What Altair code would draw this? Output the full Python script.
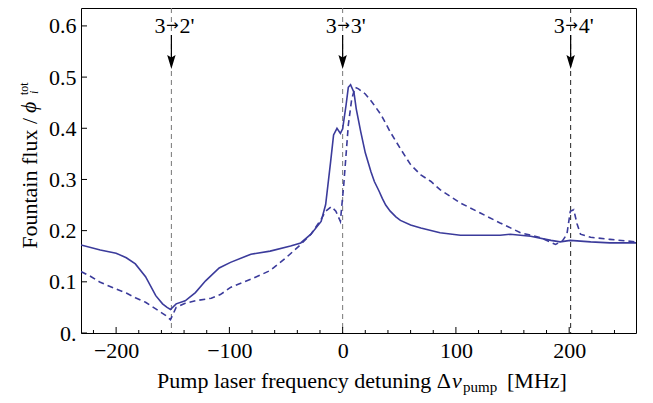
import altair as alt
import pandas as pd

# ---- data ----
solid_x = [-231, -214, -200, -191, -183, -174, -165, -159, -155, -152, -147, -139, -130, -121,
           -109, -99, -81, -64, -46, -37, -28, -19, -15, -10.6, -8, -5, -2, 0, 3, 5, 7, 10, 12,
           16, 20, 25, 28, 32, 35, 38, 42, 47, 51, 60, 69, 86, 104, 139, 148, 166, 184, 192,
           201, 219, 236, 259]
solid_y = [0.172, 0.162, 0.156, 0.147, 0.135, 0.110, 0.073, 0.057, 0.050, 0.046, 0.057, 0.063,
           0.079, 0.102, 0.127, 0.138, 0.154, 0.160, 0.170, 0.176, 0.193, 0.218, 0.251, 0.335,
           0.387, 0.400, 0.390, 0.399, 0.445, 0.480, 0.485, 0.470, 0.438, 0.393, 0.352, 0.315,
           0.296, 0.278, 0.263, 0.250, 0.238, 0.227, 0.220, 0.211, 0.205, 0.196, 0.191, 0.191,
           0.193, 0.189, 0.181, 0.178, 0.181, 0.178, 0.176, 0.176]

dash_x = [-231, -222, -214, -200, -191, -183, -174, -165, -156, -152, -147, -139, -130, -116,
          -108, -99, -81, -64, -50, -37, -28, -19, -15, -10, -6, -2, 1, 3, 5, 8, 11, 14, 20, 26,
          34, 42, 51, 60, 69, 78, 86, 104, 122, 139, 157, 175, 188, 194, 198, 201, 204, 207,
          210, 219, 236, 259]
dash_y = [0.120, 0.110, 0.099, 0.086, 0.078, 0.069, 0.060, 0.047, 0.034, 0.026, 0.050, 0.058,
          0.063, 0.068, 0.075, 0.089, 0.105, 0.122, 0.147, 0.173, 0.193, 0.222, 0.238, 0.247,
          0.238, 0.218, 0.290, 0.348, 0.406, 0.457, 0.480, 0.477, 0.467, 0.451, 0.426, 0.393,
          0.360, 0.329, 0.309, 0.296, 0.280, 0.254, 0.234, 0.215, 0.196, 0.186, 0.173, 0.180,
          0.193, 0.238, 0.241, 0.213, 0.193, 0.187, 0.183, 0.178]

trans_x = [-151.2, 0.0, 201.3]
trans_from = ["3", "3", "3"]
trans_arrow = ["\u2192", "\u2192", "\u2192"]
trans_to = ["2'", "3'", "4'"]

x_major = [-200, -100, 0, 100, 200]
x_minor = [-220, -180, -160, -140, -120, -80, -60, -40, -20, 20, 40, 60, 80,
           120, 140, 160, 180, 220, 240]
y_major = [0.0, 0.1, 0.2, 0.3, 0.4, 0.5, 0.6]

x_title_main = "Pump laser frequency detuning \u0394"
x_title_nu = "\u03bd"
x_title_sub = "pump"
x_title_unit = "[MHz]"
y_title_main = "Fountain flux /"
y_title_phi = "\u03d5"
y_title_sub = "i"
y_title_sup = "tot"

# ---- styling ----
X_DOM = [-231, 259]
Y_DOM = [0, 0.635]
W, H = 555, 325
FONT = "Liberation Serif"
BLUE = "#3b3b9b"

xs = alt.Scale(domain=X_DOM, nice=False, zero=False)
ys = alt.Scale(domain=Y_DOM, nice=False, zero=False)

solid_df = pd.DataFrame({"x": solid_x, "y": solid_y})
dash_df = pd.DataFrame({"x": dash_x, "y": dash_y})
trans_df = pd.DataFrame({"x": trans_x, "a": trans_from, "arr": trans_arrow, "b": trans_to})

x_axis = alt.Axis(values=x_major, format="d", title=None, labelPadding=7,
                  labelFontSize=22, labelFont=FONT, labelColor="black",
                  ticks=False, tickSize=0, domain=False, grid=False)
y_axis = alt.Axis(values=y_major, title=None, labelPadding=5,
                  labelExpr="datum.value == 0 ? '0.' : format(datum.value, '.1f')",
                  labelFontSize=22, labelFont=FONT, labelColor="black",
                  ticks=False, tickSize=0, domain=False, grid=False)

solid = alt.Chart(solid_df).mark_line(color=BLUE, strokeWidth=1.6, clip=True).encode(
    x=alt.X("x:Q", scale=xs, axis=x_axis),
    y=alt.Y("y:Q", scale=ys, axis=y_axis),
)
dashed = alt.Chart(dash_df).mark_line(color=BLUE, strokeWidth=1.6, strokeDash=[6, 4],
                                      clip=True).encode(
    x=alt.X("x:Q", scale=xs),
    y=alt.Y("y:Q", scale=ys),
)

vl_grey = alt.Chart(trans_df).transform_filter("datum.x < 100").mark_rule(
    color="#777", strokeDash=[5, 4], strokeWidth=1).encode(x=alt.X("x:Q", scale=xs))
vl_dark = alt.Chart(trans_df).transform_filter("datum.x >= 100").mark_rule(
    color="#222", strokeDash=[5, 4], strokeWidth=1).encode(x=alt.X("x:Q", scale=xs))

lab_a = alt.Chart(trans_df).mark_text(font=FONT, fontSize=22, baseline="alphabetic",
                                      align="right", dx=-6, color="black").encode(
    x=alt.X("x:Q", scale=xs), y=alt.value(25), text="a:N")
lab_arr = alt.Chart(trans_df).mark_text(font="DejaVu Sans", fontSize=15, baseline="alphabetic",
                                        align="center", dx=1, color="black").encode(
    x=alt.X("x:Q", scale=xs), y=alt.value(22), text="arr:N")
lab_b = alt.Chart(trans_df).mark_text(font=FONT, fontSize=22, baseline="alphabetic",
                                      align="left", dx=8, color="black").encode(
    x=alt.X("x:Q", scale=xs), y=alt.value(25), text="b:N")
shafts = alt.Chart(trans_df).mark_rule(color="black", strokeWidth=1.2).encode(
    x=alt.X("x:Q", scale=xs), y=alt.value(27), y2=alt.value(52))
heads = alt.Chart(trans_df).mark_point(shape="M0,2L-1.2,-2L0,-1.3L1.2,-2Z", size=49,
                                       filled=True, color="black", opacity=1).encode(
    x=alt.X("x:Q", scale=xs), y=alt.value(54))

xt_major = alt.Chart(pd.DataFrame({"x": x_major})).mark_rule(color="black").encode(
    x=alt.X("x:Q", scale=xs), y=alt.value(H), y2=alt.value(H - 6))
xt_minor = alt.Chart(pd.DataFrame({"x": x_minor})).mark_rule(color="black").encode(
    x=alt.X("x:Q", scale=xs), y=alt.value(H), y2=alt.value(H - 3))
yt_major = alt.Chart(pd.DataFrame({"y": y_major})).mark_rule(color="black").encode(
    y=alt.Y("y:Q", scale=ys), x=alt.value(0), x2=alt.value(6))


def txt(s, x, y, size=22, align="left", angle=0, style="normal"):
    return alt.Chart(pd.DataFrame({"t": [s]})).mark_text(
        font=FONT, fontSize=size, align=align, baseline="alphabetic", angle=angle,
        fontStyle=style, color="black").encode(x=alt.value(x), y=alt.value(y), text="t:N")


titles = [
    txt(x_title_main, 370, 380, align="right"),
    txt(x_title_nu, 371, 380, style="italic"),
    txt(x_title_sub, 382, 384, size=15),
    txt(x_title_unit, 426, 380),
    txt(y_title_main, -44, 110, align="right", angle=270),
    txt(y_title_phi, -45, 105, angle=270, style="italic"),
    txt(y_title_sub, -43, 86, size=12, angle=270, style="italic"),
    txt(y_title_sup, -53, 87, size=12, angle=270),
]

chart = alt.layer(
    vl_grey, vl_dark, solid, dashed, xt_major, xt_minor, yt_major,
    lab_a, lab_arr, lab_b, shafts, heads, *titles
).properties(
    width=W, height=H,
    padding={"left": 73, "top": 0, "right": 9, "bottom": 62},
    autosize=alt.AutoSizeParams(type="none"),
).configure_view(stroke="black", strokeWidth=1)

chart.save("out.html", embed_options={"renderer": "svg", "actions": False})
